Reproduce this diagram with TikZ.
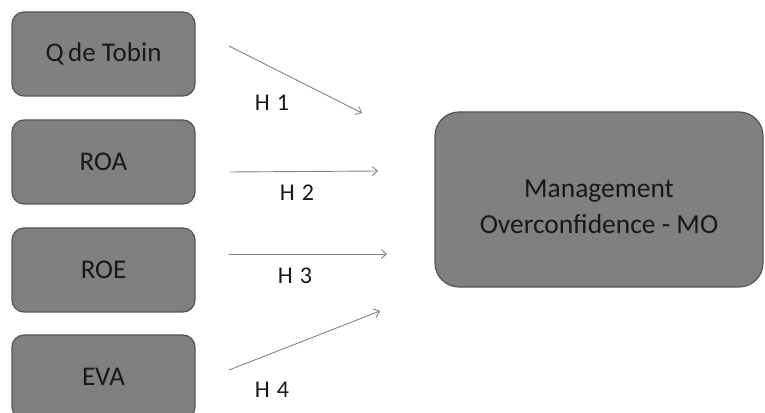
\documentclass[tikz,border=0pt]{standalone}
\usepackage{fontspec}
\setmainfont{Carlito}
\usetikzlibrary{arrows.meta}
\definecolor{boxfill}{RGB}{128,128,128}
\definecolor{boxline}{RGB}{85,85,85}
\definecolor{arrgray}{RGB}{130,130,130}
\definecolor{txt}{RGB}{25,25,25}
\tikzset{
  varbox/.style={draw=boxline, line width=1.2pt, fill=boxfill, rounded corners=12pt, minimum width=183pt, minimum height=84pt, inner sep=0pt, font=\fontsize{27}{32}\selectfont, text=txt},
  mobox/.style={draw=boxline, line width=1.2pt, fill=boxfill, rounded corners=24pt, minimum width=328pt, minimum height=175pt, inner sep=0pt, font=\fontsize{27.5}{35}\selectfont, text=txt, align=center},
  hyp/.style={draw=arrgray, line width=0.9pt, -{Straight Barb[length=5pt,width=9pt]}},
  hlabel/.style={font=\fontsize{24}{28}\selectfont, text=txt, inner sep=0pt}
}
\begin{document}
\begin{tikzpicture}[x=1pt,y=1pt]
\useasboundingbox (0,0) rectangle (765,412);
\clip (0,0) rectangle (765,412);
\fill[white] (0,0) rectangle (765,412);
\node[varbox] (q) at (103.5,358) {Q\hspace{4.5pt}de Tobin};
\node[varbox] (roa) at (103.5,250) {ROA};
\node[varbox] (roe) at (103.5,142) {ROE};
\node[varbox] (eva) at (103.5,35) {EVA};
\node[mobox] (mo) at (599,212.5) {\raisebox{-15pt}[0pt][0pt]{\begin{tabular}{@{}c@{}}Management\\[1pt]Overconfidence - MO\end{tabular}}};
\coordinate (s1) at (229,366);
\coordinate (e1) at (362,299);
\coordinate (s2) at (230,240);
\coordinate (e2) at (378,241);
\coordinate (s3) at (229,158);
\coordinate (e3) at (387,158);
\coordinate (s4) at (229,42);
\coordinate (e4) at (380,101);
\draw[hyp] (s1) -- (e1);
\draw[hyp] (s2) -- (e2);
\draw[hyp] (s3) -- (e3);
\draw[hyp] (s4) -- (e4);
\node[hlabel] (h1) at (272,309) {H\hspace{7pt}1};
\node[hlabel] (h2) at (297,219) {H\hspace{7pt}2};
\node[hlabel] (h3) at (295,136) {H\hspace{7pt}3};
\node[hlabel] (h4) at (272,22) {H\hspace{7pt}4};
\end{tikzpicture}
\end{document}
